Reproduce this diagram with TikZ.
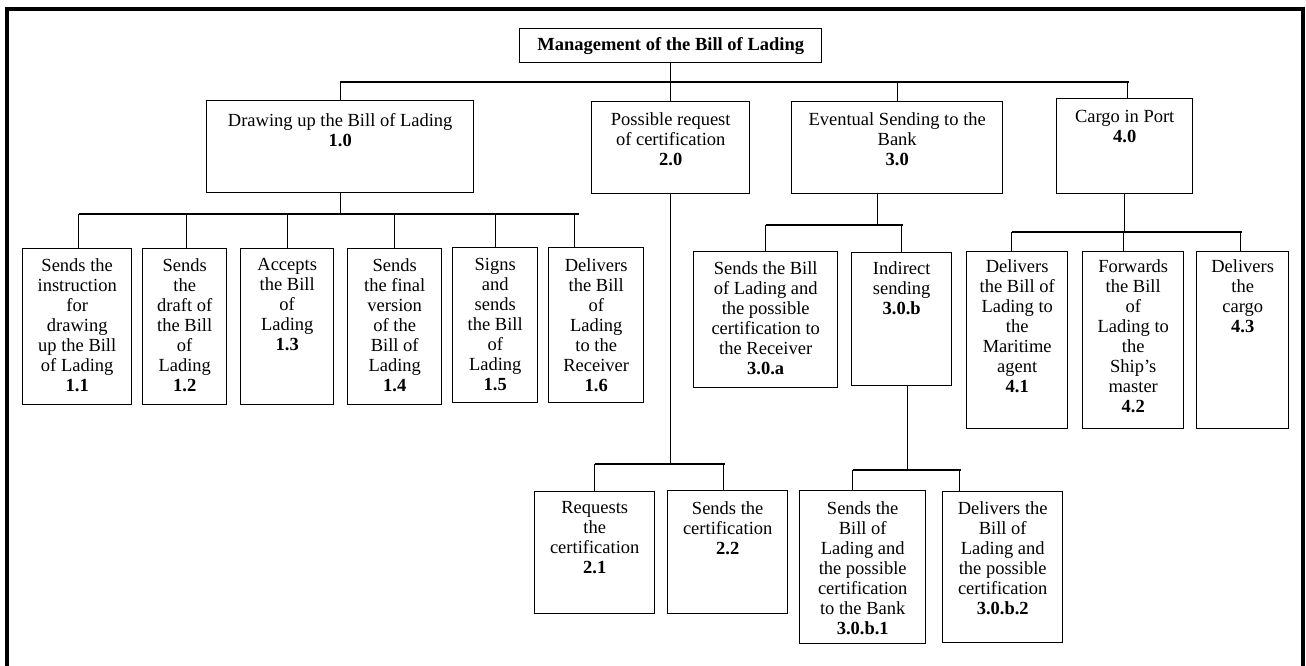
\documentclass[tikz,border=0pt]{standalone}
\usepackage{fontspec}
\setmainfont{Liberation Serif}
\usetikzlibrary{calc}
\begin{document}
\begin{tikzpicture}[x=1pt,y=-1pt,
  every node/.style={font=\fontsize{18.5}{20}\selectfont},
  box/.style={draw, line width=1.4pt, anchor=north west, inner sep=0pt},
  lbl/.style={anchor=north, align=center, inner sep=0pt},
  conn/.style={line width=1.2pt},
  frame/.style={line width=4pt, line join=miter}]
\useasboundingbox (0,0) rectangle (1306,666);
\draw[frame] (6.5,666) -- (6.5,9) -- (1303,9) -- (1303,666);

% title
\node[box, minimum width=302pt, minimum height=34pt, font=\fontsize{18.5}{20}\selectfont\bfseries] (title) at (519,28) {Management of the Bill of Lading};

% level 1
\node[box, minimum width=267pt, minimum height=92pt] (b10) at (206,100) {};
\node[box, minimum width=158pt, minimum height=92pt] (b20) at (591,101) {};
\node[box, minimum width=211pt, minimum height=92pt] (b30) at (791,101) {};
\node[box, minimum width=136pt, minimum height=95pt] (b40) at (1056,98) {};
\node[lbl] (t10) at ([yshift=-13pt]b10.north) {Drawing up the Bill of Lading\\\textbf{1.0}};
\node[lbl] (t20) at ([yshift=-11pt]b20.north) {Possible request\\of certification\\\textbf{2.0}};
\node[lbl] (t30) at ([yshift=-11pt]b30.north) {Eventual Sending to the\\Bank\\\textbf{3.0}};
\node[lbl] (t40) at ([yshift=-12pt]b40.north) {Cargo in Port\\\textbf{4.0}};

% level 2 under 1.0
\node[box, minimum width=109pt, minimum height=156pt] (b11) at (22,248) {};
\node[box, minimum width=84pt, minimum height=156pt] (b12) at (142,248) {};
\node[box, minimum width=93pt, minimum height=156pt] (b13) at (240,248) {};
\node[box, minimum width=94pt, minimum height=156pt] (b14) at (347,248) {};
\node[box, minimum width=85pt, minimum height=155pt] (b15) at (452,247) {};
\node[box, minimum width=95pt, minimum height=155pt] (b16) at (548,247) {};
\node[lbl] (t11) at ([yshift=-10pt]b11.north) {Sends the\\instruction\\for\\drawing\\up the Bill\\of Lading\\\textbf{1.1}};
\node[lbl] (t12) at ([yshift=-10pt]b12.north) {Sends\\the\\draft of\\the Bill\\of\\Lading\\\textbf{1.2}};
\node[lbl] (t13) at ([yshift=-10pt]b13.north) {Accepts\\the Bill\\of\\Lading\\\textbf{1.3}};
\node[lbl] (t14) at ([yshift=-10pt]b14.north) {Sends\\the final\\version\\of the\\Bill of\\Lading\\\textbf{1.4}};
\node[lbl] (t15) at ([yshift=-11pt]b15.north) {Signs\\and\\sends\\the Bill\\of\\Lading\\\textbf{1.5}};
\node[lbl] (t16) at ([yshift=-11pt]b16.north) {Delivers\\the Bill\\of\\Lading\\to the\\Receiver\\\textbf{1.6}};

% level 2 under 2.0
\node[box, minimum width=120pt, minimum height=122pt] (b21) at (534,491) {};
\node[box, minimum width=120pt, minimum height=123pt] (b22) at (667,490) {};
\node[lbl] (t21) at ([yshift=-10pt]b21.north) {Requests\\the\\certification\\\textbf{2.1}};
\node[lbl] (t22) at ([yshift=-11pt]b22.north) {Sends the\\certification\\\textbf{2.2}};

% level 2 under 3.0
\node[box, minimum width=144pt, minimum height=136pt] (b3a) at (693,251) {};
\node[box, minimum width=100pt, minimum height=133pt] (b3b) at (851,252) {};
\node[lbl] (t3a) at ([yshift=-10pt]b3a.north) {Sends the Bill\\of Lading and\\the possible\\certification to\\the Receiver\\\textbf{3.0.a}};
\node[lbl] (t3b) at ([yshift=-9pt]b3b.north) {Indirect\\sending\\\textbf{3.0.b}};

% level 3 under 3.0.b
\node[box, minimum width=126pt, minimum height=153pt] (b3b1) at (799,490) {};
\node[box, minimum width=120pt, minimum height=151pt] (b3b2) at (942,491) {};
\node[lbl] (t3b1) at ([yshift=-11pt]b3b1.north) {Sends the\\Bill of\\Lading and\\the possible\\certification\\to the Bank\\\textbf{3.0.b.1}};
\node[lbl] (t3b2) at ([yshift=-10pt]b3b2.north) {Delivers the\\Bill of\\Lading and\\the possible\\certification\\\textbf{3.0.b.2}};

% level 2 under 4.0
\node[box, minimum width=101pt, minimum height=177pt] (b41) at (966,251) {};
\node[box, minimum width=101pt, minimum height=177pt] (b42) at (1082,251) {};
\node[box, minimum width=92pt, minimum height=177pt] (b43) at (1196,251) {};
\node[lbl] (t41) at ([yshift=-8pt]b41.north) {Delivers\\the Bill of\\Lading to\\the\\Maritime\\agent\\\textbf{4.1}};
\node[lbl] (t42) at ([yshift=-8pt]b42.north) {Forwards\\the Bill\\of\\Lading to\\the\\Ship’s\\master\\\textbf{4.2}};
\node[lbl] (t43) at ([yshift=-8pt]b43.north) {Delivers\\the\\cargo\\\textbf{4.3}};

% bus levels
\coordinate (y1) at (0,82);
\coordinate (y2) at (0,214);
\coordinate (y3) at (0,464);
\coordinate (y4) at (0,225);
\coordinate (y5) at (0,232);
\coordinate (y6) at (0,470);

% connection points
\coordinate (k40) at ([xshift=3pt]b40.north);
\coordinate (k11) at ([xshift=1.5pt]b11.north);
\coordinate (k12) at ([xshift=2pt]b12.north);
\coordinate (k13) at (b13.north);
\coordinate (k14) at (b14.north);
\coordinate (k15) at (b15.north);
\coordinate (k16) at ([xshift=-21.5pt]b16.north);
\coordinate (k21) at (b21.north);
\coordinate (k22) at ([xshift=-4pt]b22.north);
\coordinate (p30) at ([xshift=-20pt]b30.south);
\coordinate (k3a) at (b3a.north);
\coordinate (k3b) at (b3b.north);
\coordinate (k41) at ([xshift=-5.5pt]b41.north);
\coordinate (k42) at ([xshift=-9.5pt]b42.north);
\coordinate (k43) at ([xshift=-2pt]b43.north);
\coordinate (p3b) at ([xshift=6pt]b3b.south);
\coordinate (k3b1) at ([xshift=-10pt]b3b1.north);
\coordinate (k3b2) at ([xshift=-43pt]b3b2.north);

% level 1 connectors
\draw[conn] (title.south) -- (b20.north);
\draw[conn] (b10.north |- y1) -- ([xshift=1pt]k40 |- y1);
\draw[conn] (b10.north) -- (b10.north |- y1);
\draw[conn] (b30.north) -- (b30.north |- y1);
\draw[conn] (k40) -- (k40 |- y1);

% 1.x connectors
\draw[conn] (b10.south) -- (b10.south |- y2);
\draw[conn] (k11 |- y2) -- ([xshift=4pt]k16 |- y2);
\foreach \k in {k11,k12,k13,k14,k15,k16} \draw[conn] (\k) -- (\k |- y2);

% 2.x connectors
\draw[conn] (b20.south) -- (b20.south |- y3);
\draw[conn] (k21 |- y3) -- ([xshift=1pt]k22 |- y3);
\foreach \k in {k21,k22} \draw[conn] (\k) -- (\k |- y3);

% 3.x connectors
\draw[conn] (p30) -- (p30 |- y4);
\draw[conn] (k3a |- y4) -- ([xshift=1pt]k3b |- y4);
\foreach \k in {k3a,k3b} \draw[conn] (\k) -- (\k |- y4);

% 4.x connectors
\draw[conn] (b40.south) -- (b40.south |- y5);
\draw[conn] (k41 |- y5) -- ([xshift=1pt]k43 |- y5);
\foreach \k in {k41,k42,k43} \draw[conn] (\k) -- (\k |- y5);

% 3.0.b.x connectors
\draw[conn] (p3b) -- (p3b |- y6);
\draw[conn] (k3b1 |- y6) -- ([xshift=1pt]k3b2 |- y6);
\foreach \k in {k3b1,k3b2} \draw[conn] (\k) -- (\k |- y6);
\end{tikzpicture}
\end{document}
